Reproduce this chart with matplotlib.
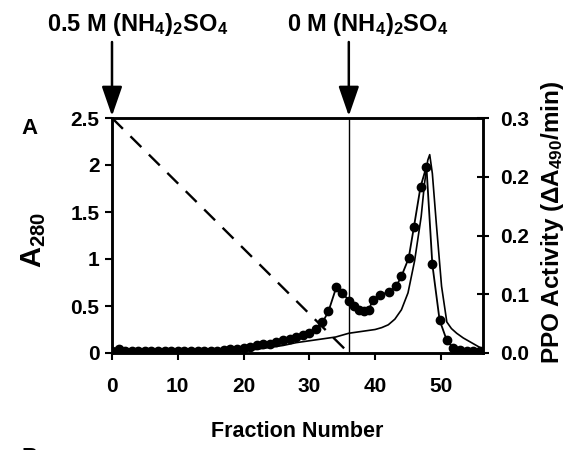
import matplotlib
matplotlib.use("Agg")
import matplotlib.pyplot as plt
from matplotlib.ticker import FixedLocator, FixedFormatter

plt.rcParams['font.family'] = ['Liberation Sans', 'DejaVu Sans']
plt.rcParams['font.weight'] = 'bold'
plt.rcParams['mathtext.fontset'] = 'custom'
plt.rcParams['mathtext.rm'] = 'Liberation Sans:bold'
plt.rcParams['mathtext.bf'] = 'Liberation Sans:bold'
plt.rcParams['mathtext.it'] = 'Liberation Sans:bold'
plt.rcParams['mathtext.default'] = 'bf'

# A280 trace (left axis)
a280_x = [0, 18, 20, 22, 24, 26, 28, 30, 32, 34, 36, 38, 40, 41, 42, 43, 44, 45, 46,
          47, 47.5, 48, 48.3, 48.7, 49.3, 50.1, 50.9, 51.6, 52.4, 53.4, 54.4, 55.4, 56.4]
a280_y = [0.0, 0.0, 0.02, 0.04, 0.06, 0.08, 0.11, 0.13, 0.15, 0.17, 0.21, 0.23, 0.25, 0.27, 0.30,
          0.36, 0.46, 0.64, 0.98, 1.45, 1.80, 2.05, 2.11, 1.91, 1.38, 0.71, 0.33, 0.26, 0.21, 0.16, 0.12, 0.08, 0.04]

# PPO activity (right axis)
ppo_x = [0, 1, 2, 3, 4, 5, 6, 7, 8, 9, 10, 11, 12, 13, 14, 15, 16, 17, 18, 19, 20,
         21, 22, 23, 24, 25, 26, 27, 28, 29, 30, 31, 32, 32.9, 34.1, 35.0, 36.1, 36.8,
         37.6, 38.3, 39.0, 39.7, 40.7, 42.1, 43.2, 44.0, 45.1, 45.9, 46.9, 47.8, 48.7,
         49.8, 50.9, 51.9, 52.9, 53.9, 54.9, 55.9]
ppo_y = [0.002, 0.005, 0.002, 0.002, 0.002, 0.002, 0.002, 0.002, 0.002, 0.002, 0.002,
         0.002, 0.002, 0.002, 0.002, 0.002, 0.002, 0.004, 0.005, 0.005, 0.006,
         0.008, 0.010, 0.011, 0.012, 0.014, 0.016, 0.018, 0.020, 0.023, 0.026, 0.031, 0.039,
         0.053, 0.084, 0.077, 0.066, 0.060, 0.055, 0.054, 0.055, 0.068, 0.074, 0.078,
         0.085, 0.098, 0.121, 0.161, 0.212, 0.238, 0.113, 0.042, 0.016, 0.006, 0.004,
         0.002, 0.002, 0.002]

# salt gradient (left-axis scale)
grad_x = [0, 36]
grad_y = [2.5, 0]

x_ticks = [0, 10, 20, 30, 40, 50]
left_ticks = [0, 0.5, 1, 1.5, 2, 2.5]
left_labels = ['0', '0.5', '1', '1.5', '2', '2.5']
right_ticks = [0, 0.075, 0.15, 0.225, 0.3]
right_labels = ['0.0', '0.1', '0.2', '0.2', '0.3']

W, H = 574, 450
fig = plt.figure(figsize=(W / 100, H / 100), dpi=100)
ax = fig.add_axes([112 / W, 1 - 353 / H, (483 - 112) / W, (353 - 118) / H])
ax2 = ax.twinx()

ax.set_xlim(0, 56.4)
ax.set_ylim(0, 2.5)
ax2.set_ylim(0, 0.3)

ax.plot(grad_x, grad_y, color='black', lw=1.7, dashes=(6.5, 4.5))
ax.axvline(36, color='black', lw=1.0)
ax.plot(a280_x, a280_y, color='black', lw=1.2)
ax2.plot(ppo_x, ppo_y, color='black', lw=1.3, marker='o', ms=6)

for a in (ax, ax2):
    for s in a.spines.values():
        s.set_linewidth(1.8)

ax.xaxis.set_major_locator(FixedLocator(x_ticks))
ax.yaxis.set_major_locator(FixedLocator(left_ticks))
ax.yaxis.set_major_formatter(FixedFormatter(left_labels))
ax2.yaxis.set_major_locator(FixedLocator(right_ticks))
ax2.yaxis.set_major_formatter(FixedFormatter(right_labels))

ax.tick_params(axis='x', direction='out', length=5, width=1.5, labelsize=15, pad=12)
ax.tick_params(axis='y', direction='out', length=5, width=1.5, labelsize=15, pad=4)
ax2.tick_params(axis='y', direction='inout', length=9, width=1.5, labelsize=15, pad=8)
for lab in ax.get_xticklabels() + ax.get_yticklabels() + ax2.get_yticklabels():
    lab.set_fontweight('bold')

ax.set_xlabel('Fraction Number', fontsize=15.5, fontweight='bold', labelpad=18)

fig.text(34 / W, 1 - 240 / H, r'A$_{280}$', rotation=90, fontsize=21,
         fontweight='bold', ha='center', va='center')
fig.text(553 / W, 1 - 222 / H, r'PPO Activity (ΔA$_{490}$/min)', rotation=90,
         fontsize=17.5, fontweight='bold', ha='center', va='center')
fig.text(30 / W, 1 - 128 / H, 'A', fontsize=16, fontweight='bold', ha='center', va='center')
fig.text(30 / W, 1 - 447 / H, 'B', fontsize=16, fontweight='bold', ha='center', va='top')

# arrows and salt labels
for xv, label, cx in [(0, r'0.5 M (NH$_4$)$_2$SO$_4$', 138),
                      (36, r'0 M (NH$_4$)$_2$SO$_4$', 368)]:
    ax.annotate('', xy=(xv, H - 116), xytext=(xv, H - 42),
                xycoords=('data', 'figure pixels'), textcoords=('data', 'figure pixels'),
                arrowprops=dict(arrowstyle='-|>,head_length=1.3,head_width=0.45',
                                mutation_scale=14, lw=1.8, color='black',
                                shrinkA=0, shrinkB=0),
                annotation_clip=False)
    fig.text(cx / W, 1 - 24 / H, label, fontsize=17, fontweight='bold',
             ha='center', va='center')

fig.savefig('out.png', dpi=100)
